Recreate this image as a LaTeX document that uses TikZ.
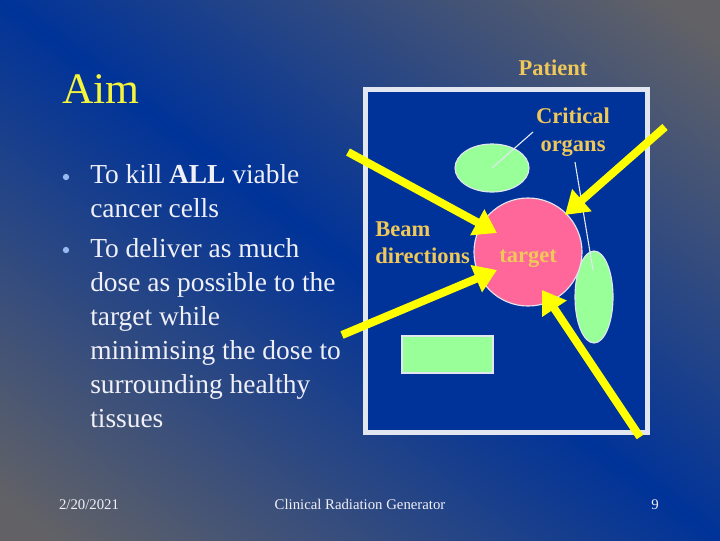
\documentclass[tikz,border=0pt]{standalone}
\usepackage{fontspec}
\setmainfont{Liberation Serif}
\usetikzlibrary{positioning, arrows.meta, shapes.geometric}

\definecolor{slideblue}{RGB}{0,51,153}
\definecolor{slidegray}{RGB}{98,98,102}
\definecolor{aimyellow}{RGB}{245,245,60}
\definecolor{labelgold}{RGB}{240,200,90}
\definecolor{organgreen}{RGB}{153,255,153}
\definecolor{targetpink}{RGB}{255,102,153}
\definecolor{rimwhite}{RGB}{225,230,240}
\definecolor{beamyellow}{RGB}{255,255,0}
\definecolor{dotblue}{RGB}{150,185,240}
\definecolor{textwhite}{RGB}{240,240,248}

\begin{document}
\begin{tikzpicture}[x=0.025cm, y=-0.025cm,
    label/.style={text=labelgold, font=\fontsize{16}{19.5}\selectfont\bfseries, inner sep=0pt},
    bullettext/.style={text=textwhite, font=\fontsize{19.5}{24.2}\selectfont, align=left, anchor=north west, inner sep=0pt},
    dot/.style={circle, fill=dotblue, inner sep=0pt, minimum size=4.5pt},
    organ/.style={ellipse, draw=rimwhite, line width=0.8pt, fill=organgreen, inner sep=0pt},
    beam/.style={draw=beamyellow, line width=5.7pt, -{Triangle[length=16pt, width=20pt]}},
    pointer/.style={draw=rimwhite, line width=0.8pt},
    footer/.style={text=textwhite, font=\fontsize{10.5}{12}\selectfont, anchor=base}
    ]

    % Fondo
    \useasboundingbox (0,0) rectangle (720,540);
    \fill[slidegray] (-6,-6) rectangle (726,546);
    \begin{scope}
        \clip (-6,-6) rectangle (726,546);
        \begin{scope}[transform canvas={rotate around={-36.87:(360,270)}}]
            \shade[top color=slidegray, bottom color=slidegray, middle color=slideblue] (-240,-130) rectangle (960,670);
        \end{scope}
    \end{scope}

    % Titulo y texto
    \node[text=aimyellow, font=\fontsize{31}{34}\selectfont, anchor=base west, inner sep=0pt] (aim) at (62,103) {Aim};
    \node[dot] (dotA) at (66,177) {};
    \node[bullettext] (kill) at (90,164) {To kill \textbf{ALL} viable\\cancer cells};
    \node[dot] (dotB) at (66,250) {};
    \node[bullettext] (deliver) at (90,238) {To deliver as much\\dose as possible to the\\target while\\minimising the dose to\\surrounding healthy\\tissues};

    % Paciente
    \node[label, anchor=base] (patientlabel) at (553,75) {Patient};
    \draw[rimwhite, line width=3.5pt, fill=slideblue] (365.5,89.5) rectangle (647.5,432.5);

    % Organos y objetivo
    \node[organ, minimum width=1.85cm, minimum height=1.2cm] (organtop) at (492,168) {};
    \node[organ, minimum width=0.95cm, minimum height=2.3cm] (organright) at (594,297) {};
    \node[draw=rimwhite, line width=0.8pt, fill=organgreen, minimum width=2.275cm, minimum height=0.925cm, inner sep=0pt] (organbox) at (447.5,354.5) {};
    \node[circle, draw=rimwhite, line width=0.8pt, fill=targetpink, minimum size=2.7cm, inner sep=0pt] (target) at (528,252) {};
    \node[label, anchor=base] (targetlabel) at (528,262) {target};

    \node[label, align=center, anchor=north] (critical) at (573,108) {Critical\\organs};
    \node[label, align=left, anchor=north west] (beamlabel) at (375,221) {Beam\\directions};

    % Lineas a los organos
    \coordinate (critA) at (533,132);
    \coordinate (critB) at (575,162);
    \draw[pointer] (critA) -- (organtop.center);
    \draw[pointer] (critB) -- (593,270);

    % Haces
    \coordinate (beamA) at (348,152);
    \coordinate (beamB) at (342,335);
    \coordinate (beamC) at (665,127);
    \coordinate (beamD) at (640,437);
    \coordinate (tipA) at (497,233);
    \coordinate (tipB) at (497,270);
    \coordinate (tipC) at (565,215);
    \coordinate (tipD) at (542,290);
    \draw[beam] (beamA) -- (tipA);
    \draw[beam] (beamB) -- (tipB);
    \draw[beam] (beamC) -- (tipC);
    \draw[beam] (beamD) -- (tipD);

    % Pie
    \node[footer] (date) at (89,509) {2/20/2021};
    \node[footer] (title) at (360,509) {Clinical Radiation Generator};
    \node[footer] (page) at (655,509) {9};

\end{tikzpicture}
\end{document}
